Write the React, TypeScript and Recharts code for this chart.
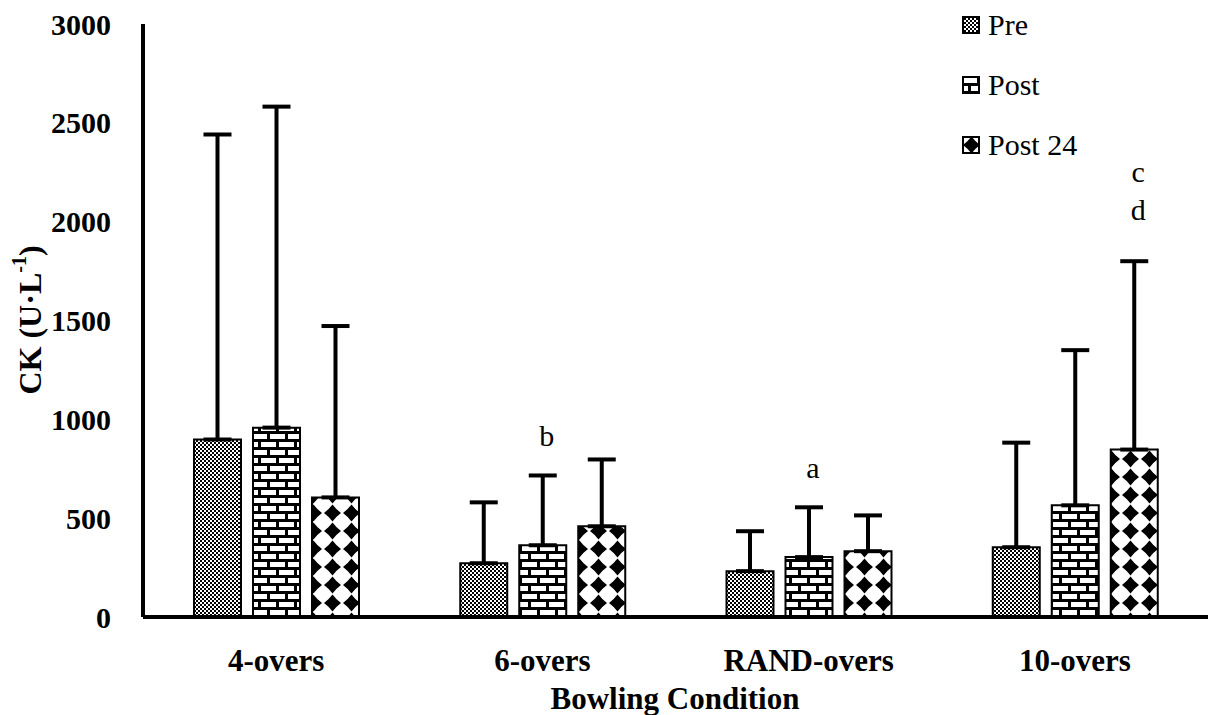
import { Bar, BarChart, XAxis, YAxis, ErrorBar, LabelList } from "recharts";

const categories = ["4-overs", "6-overs", "RAND-overs", "10-overs"];
const preMeans = [898, 272, 232, 353];
const preSD = [1543, 308, 202, 529];
const postMeans = [958, 363, 303, 565];
const postSD = [1624, 353, 252, 785];
const post24Means = [605, 459, 333, 847];
const post24SD = [867, 338, 181, 953];
const postLetters = ["", "b", "a", ""];
const post24Letters = ["", "", "", "c d"];
const yTicks = [0, 500, 1000, 1500, 2000, 2500, 3000];

const SERIF = "'Liberation Serif', 'Times New Roman', serif";

const data = categories.map((name, i) => ({
    name,
    pre: preMeans[i],
    preErr: [0, preSD[i]],
    post: postMeans[i],
    postErr: [0, postSD[i]],
    post24: post24Means[i],
    post24Err: [0, post24SD[i]],
}));

const legendItems = [
    { label: "Pre", fill: "url(#patPre)" },
    { label: "Post", fill: "url(#patPost)" },
    { label: "Post 24", fill: "url(#patPost24)" },
];

function diamond(cx: number, cy: number, r: number) {
    const k = 3.6;
    return `M${cx} ${cy - r} Q${cx + k} ${cy - k} ${cx + r} ${cy} Q${cx + k} ${cy + k} ${cx} ${cy + r} Q${cx - k} ${cy + k} ${cx - r} ${cy} Q${cx - k} ${cy - k} ${cx} ${cy - r} Z`;
}

function Patterns() {
    return (
        <svg width={0} height={0} style={{ position: "absolute" }}>
            <defs>
                <pattern id="patPre" width={4} height={4} patternUnits="userSpaceOnUse">
                    <rect width={4} height={4} fill="#fff" />
                    <rect x={0} y={0} width={2} height={2} fill="#000" />
                    <rect x={2} y={2} width={2} height={2} fill="#000" />
                </pattern>
                <pattern id="patPost" width={18} height={16} patternUnits="userSpaceOnUse">
                    <rect width={18} height={16} fill="#000" />
                    <rect x={0} y={2} width={15} height={5} fill="#fff" />
                    <rect x={9} y={10} width={15} height={5} fill="#fff" />
                    <rect x={0} y={10} width={6} height={5} fill="#fff" />
                </pattern>
                <pattern id="patPost24" width={19} height={18} patternUnits="userSpaceOnUse">
                    <rect width={19} height={18} fill="#fff" />
                    <path d={diamond(9.5, 9, 8.5)} fill="#000" />
                </pattern>
            </defs>
        </svg>
    );
}

function LegendBox() {
    return (
        <div style={{ position: "absolute", left: 962, top: -5, fontFamily: SERIF, fontSize: 30, color: "#000" }}>
            {legendItems.map((item) => (
                <div key={item.label} style={{ display: "flex", alignItems: "center", height: 60 }}>
                    <svg width={18} height={18} style={{ marginRight: 8 }}>
                        <rect x={1} y={1} width={16} height={16} fill={item.fill} stroke="#000" strokeWidth={2} />
                    </svg>
                    <span>{item.label}</span>
                </div>
            ))}
        </div>
    );
}

function letterLabel(letters: string[], sds: number[], gap: number) {
    return (props: any) => {
        const { x, y, width, height, value, index } = props;
        const text = letters[index];
        if (!text) return null;
        const pxPerUnit = height / value;
        const capY = y - sds[index] * pxPerUnit;
        const lines = text.split(" ");
        return (
            <g>
                {lines.map((ln, k) => (
                    <text
                        key={k}
                        x={x + width / 2 + 4}
                        y={capY - gap - (lines.length - 1 - k) * 38}
                        textAnchor="middle"
                        dominantBaseline="central"
                        fontFamily={SERIF}
                        fontSize={30}
                        fill="#000"
                    >
                        {ln}
                    </text>
                ))}
            </g>
        );
    };
}

function YLabel() {
    return (
        <text
            transform="rotate(-90 30 320)"
            x={30}
            y={320}
            textAnchor="middle"
            dominantBaseline="central"
            fontFamily={SERIF}
            fontWeight="bold"
            fontSize={32}
            fill="#000"
        >
            <tspan>CK (U·L</tspan>
            <tspan dy={-11} fontSize={20}>-1</tspan>
            <tspan dy={11}>)</tspan>
        </text>
    );
}

function XLabel() {
    return (
        <text
            x={675}
            y={698}
            textAnchor="middle"
            dominantBaseline="central"
            fontFamily={SERIF}
            fontWeight="bold"
            fontSize={31}
            fill="#000"
        >
            Bowling Condition
        </text>
    );
}

export default function App() {
    return (
        <div style={{ position: "absolute", left: 0, top: 0, width: 1213, height: 715, background: "#fff" }}>
            <Patterns />
            <BarChart
                width={1213}
                height={715}
                data={data}
                margin={{ top: 24, right: 5, bottom: 68, left: 0 }}
                barGap={12}
                barCategoryGap={51}
            >
                <XAxis
                    dataKey="name"
                    height={30}
                    axisLine={{ stroke: "#000", strokeWidth: 4 }}
                    tickLine={false}
                    tickSize={30}
                    tick={{ fill: "#000", fontFamily: SERIF, fontWeight: "bold", fontSize: 31 }}
                    label={{ content: () => <XLabel /> }}
                />
                <YAxis
                    width={143}
                    domain={[0, 3000]}
                    ticks={yTicks}
                    axisLine={{ stroke: "#000", strokeWidth: 4 }}
                    tickLine={false}
                    tickSize={30}
                    tick={{ fill: "#000", fontFamily: SERIF, fontWeight: "bold", fontSize: 30 }}
                    label={{ content: () => <YLabel /> }}
                />
                <Bar dataKey="pre" name="Pre" fill="url(#patPre)" stroke="#000" strokeWidth={2} isAnimationActive={false}>
                    <ErrorBar dataKey="preErr" direction="y" width={14} stroke="#000" strokeWidth={4} />
                </Bar>
                <Bar dataKey="post" name="Post" fill="url(#patPost)" stroke="#000" strokeWidth={2} isAnimationActive={false}>
                    <ErrorBar dataKey="postErr" direction="y" width={14} stroke="#000" strokeWidth={4} />
                    <LabelList dataKey="post" content={letterLabel(postLetters, postSD, 40)} />
                </Bar>
                <Bar dataKey="post24" name="Post 24" fill="url(#patPost24)" stroke="#000" strokeWidth={2} isAnimationActive={false}>
                    <ErrorBar dataKey="post24Err" direction="y" width={14} stroke="#000" strokeWidth={4} />
                    <LabelList dataKey="post24" content={letterLabel(post24Letters, post24SD, 52)} />
                </Bar>
            </BarChart>
            <LegendBox />
        </div>
    );
}
